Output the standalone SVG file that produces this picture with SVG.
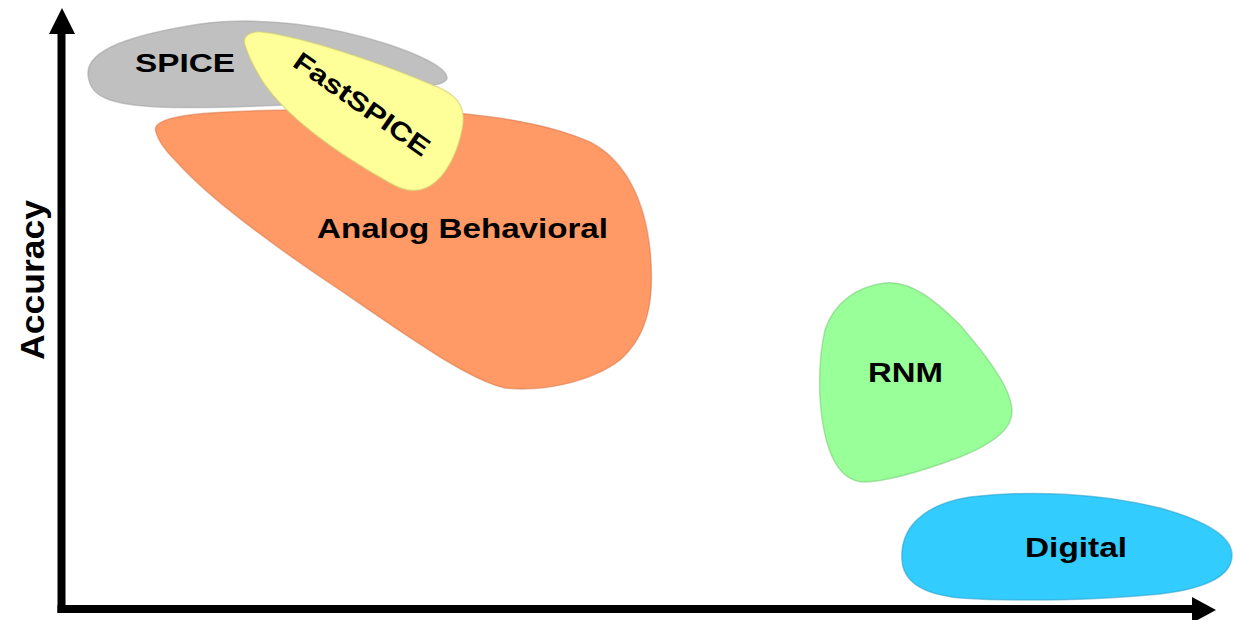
<svg xmlns="http://www.w3.org/2000/svg" width="1233" height="620" viewBox="0 0 1233 620">
  <style>
    .lbl { font-family: "Liberation Sans", Arial, sans-serif; font-weight: bold; fill: #000; }
    .blob { stroke-width: 1.5; stroke-opacity: 0.55; }
    .axis { stroke: #000; stroke-width: 8; fill: none; }
  </style>
  <rect width="1233" height="620" fill="#fff"/>

  <g id="spice">
    <path class="blob" fill="#c0c0c0" stroke="#a0a0a0" d="M 88,75 C 86,50 130,35 200,24 C 260,16 330,25 390,45 C 420,55 447,68 447,78 C 447,84 430,86 410,90 C 370,98 320,104 260,106 C 200,108 140,110 110,100 C 95,95 89,87 88,75 Z"/>
    <text class="lbl" x="135" y="72" font-size="26" textLength="100" lengthAdjust="spacingAndGlyphs">SPICE</text>
  </g>

  <g id="analog-behavioral">
    <path class="blob" fill="#ff9966" stroke="#d97a4c" d="M 156,132 C 152,122 170,116 210,113 C 260,110 330,108 400,110 C 470,112 540,120 590,142 C 625,160 645,200 650,250 C 655,300 648,335 620,360 C 590,383 540,392 505,388 C 470,380 420,345 340,290 C 280,250 210,200 175,160 C 165,150 158,140 156,132 Z"/>
    <text class="lbl" x="317" y="238" font-size="27" textLength="291" lengthAdjust="spacingAndGlyphs">Analog Behavioral</text>
  </g>

  <g id="fastspice">
    <path class="blob" fill="#ffff99" stroke="#cccc70" d="M 245,45 C 242,36 250,31 262,32 C 300,36 380,62 440,88 C 462,98 466,112 462,130 C 458,150 448,175 430,186 C 418,193 405,192 390,183 C 340,155 290,120 265,85 C 255,70 248,55 245,45 Z"/>
    <text class="lbl" font-size="26" text-anchor="middle" textLength="160" lengthAdjust="spacingAndGlyphs" transform="translate(362,104) rotate(35)" x="0" y="9">FastSPICE</text>
  </g>

  <g id="rnm">
    <path class="blob" fill="#99ff99" stroke="#77cc77" d="M 885,283 C 910,280 935,300 960,325 C 990,360 1012,390 1012,412 C 1012,430 990,445 960,457 C 920,472 885,482 862,482 C 842,480 830,460 824,430 C 818,400 818,360 825,330 C 835,300 860,286 885,283 Z"/>
    <text class="lbl" x="868" y="382" font-size="27" textLength="75" lengthAdjust="spacingAndGlyphs">RNM</text>
  </g>

  <g id="digital">
    <path class="blob" fill="#33ccff" stroke="#2a9ec8" d="M 902,560 C 900,530 920,505 970,497 C 1030,490 1100,493 1160,508 C 1210,522 1232,538 1232,555 C 1232,575 1210,588 1160,594 C 1100,600 1020,602 960,598 C 920,594 903,580 902,560 Z"/>
    <text class="lbl" x="1025" y="557" font-size="27" textLength="102" lengthAdjust="spacingAndGlyphs">Digital</text>
  </g>

  <g id="axes">
    <line class="axis" x1="61.5" y1="30" x2="61.5" y2="613"/>
    <line class="axis" x1="57.5" y1="609" x2="1195" y2="609"/>
    <polygon points="62,8 49,34 75,34" fill="#000"/>
    <polygon points="1216,610 1192,597 1192,623" fill="#000"/>
    <text class="lbl" font-size="34" text-anchor="middle" textLength="160" lengthAdjust="spacingAndGlyphs" transform="translate(44,280) rotate(-90)" x="0" y="0">Accuracy</text>
  </g>
</svg>
